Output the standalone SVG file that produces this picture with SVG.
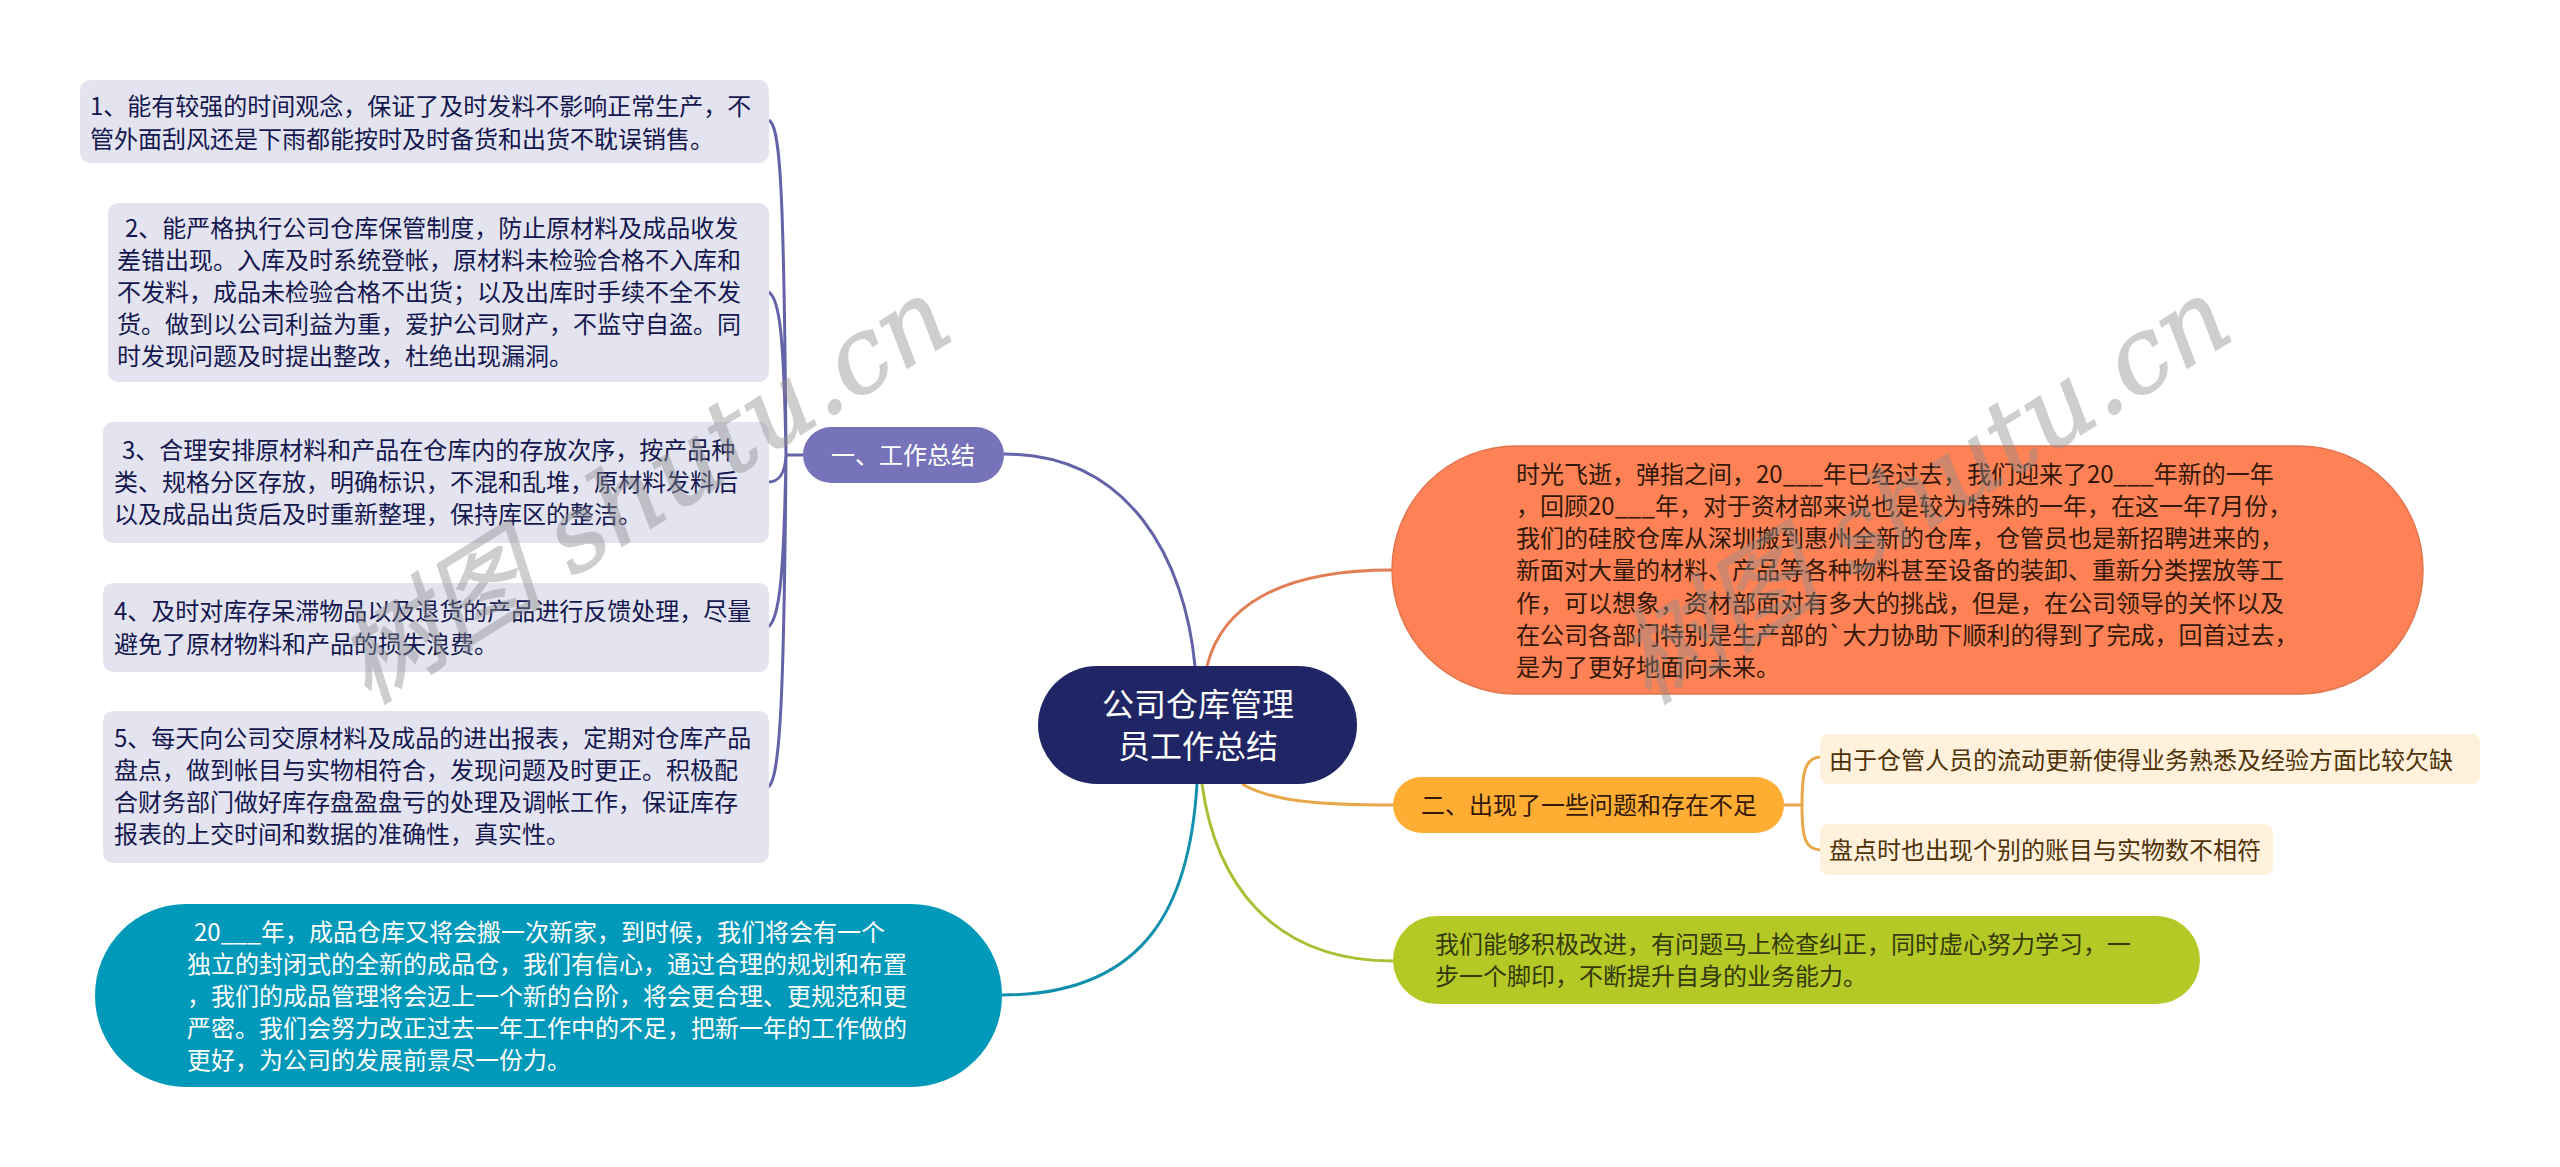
<svg xmlns="http://www.w3.org/2000/svg" width="2560" height="1167" viewBox="0 0 2560 1167">
<style>
text{font-family:"Noto Sans CJK SC","Liberation Sans",sans-serif;font-size:24px}
.c{fill:none;stroke-width:3}
.p{fill:#e4e4f1}.pt{fill:#14174e}
.w{fill:#fff}.d{fill:#331808}.b{fill:#4f3206}
.wm{font-family:"DejaVu Serif","Noto Sans CJK SC",serif;font-size:104px;font-style:italic;fill:#8c8c8c;stroke:#8c8c8c;stroke-width:1.5;opacity:.42}
</style>
<rect width="2560" height="1167" fill="#fff"/>
<g id="connectors">
<path class="c" stroke="#6563a8" d="M1195 666C1185 560 1130 454 1004 454"/>
<path class="c" stroke="#e07f55" d="M1207 666C1222 606 1280 570 1392 570"/>
<path class="c" stroke="#e8a84a" d="M1242 784C1270 800 1310 805 1393 805"/>
<path class="c" stroke="#aabf35" d="M1202 784C1215 880 1270 961 1393 961"/>
<path class="c" stroke="#1190ae" d="M1197 784C1190 900 1150 995 1002 995"/>
<path class="c" stroke="#6563a8" d="M804 455H786M768 120C780 122 784 180 786 455M768 292C780 296 784 340 786 455M768 482C778 482 785 476 786 455M768 627C780 620 784 570 786 455M768 787C780 780 784 700 786 455"/>
<path class="c" stroke="#e8a84a" d="M1783 805H1802M1820 757C1805 758 1802 772 1802 805M1820 850C1805 849 1802 838 1802 805"/>
</g>
<g id="root"><rect x="1038" y="666" width="319" height="118" rx="59" fill="#1f2565"/>
<text class="w" style="font-size:32px" x="1198" y="716" text-anchor="middle">公司仓库管理</text><text class="w" style="font-size:32px" x="1198" y="758" text-anchor="middle">员工作总结</text></g>
<g id="b1"><rect x="803" y="427" width="201" height="56" rx="28" fill="#7673ba"/><text class="w" x="903" y="464" text-anchor="middle">一、工作总结</text></g>
<g id="n1"><rect class="p" x="80" y="80" width="689" height="83" rx="10"/><text class="pt" x="90" y="115">1、能有较强的时间观念，保证了及时发料不影响正常生产，不</text><text class="pt" x="90" y="148">管外面刮风还是下雨都能按时及时备货和出货不耽误销售。</text></g>
<g id="n2"><rect class="p" x="108" y="203" width="661" height="179" rx="10"/><text class="pt" x="125" y="237"> 2、能严格执行公司仓库保管制度，防止原材料及成品收发</text><text class="pt" x="117" y="269">差错出现。入库及时系统登帐，原材料未检验合格不入库和</text><text class="pt" x="117" y="301">不发料，成品未检验合格不出货；以及出库时手续不全不发</text><text class="pt" x="117" y="333">货。做到以公司利益为重，爱护公司财产，不监守自盗。同</text><text class="pt" x="117" y="365">时发现问题及时提出整改，杜绝出现漏洞。</text></g>
<g id="n3"><rect class="p" x="103" y="422" width="666" height="121" rx="10"/><text class="pt" x="122" y="459">3、合理安排原材料和产品在仓库内的存放次序，按产品种</text><text class="pt" x="114" y="491">类、规格分区存放，明确标识，不混和乱堆，原材料发料后</text><text class="pt" x="114" y="523">以及成品出货后及时重新整理，保持库区的整洁。</text></g>
<g id="n4"><rect class="p" x="103" y="583" width="666" height="89" rx="10"/><text class="pt" x="114" y="620">4、及时对库存呆滞物品以及退货的产品进行反馈处理，尽量</text><text class="pt" x="114" y="653">避免了原材物料和产品的损失浪费。</text></g>
<g id="n5"><rect class="p" x="103" y="711" width="666" height="152" rx="10"/><text class="pt" x="114" y="747">5、每天向公司交原材料及成品的进出报表，定期对仓库产品</text><text class="pt" x="114" y="779">盘点，做到帐目与实物相符合，发现问题及时更正。积极配</text><text class="pt" x="114" y="811">合财务部门做好库存盘盈盘亏的处理及调帐工作，保证库存</text><text class="pt" x="114" y="843">报表的上交时间和数据的准确性，真实性。</text></g>
<g id="teal"><rect x="95" y="904" width="907" height="183" rx="91" fill="#0099b9"/>
<text class="w" x="194" y="941">20___年，成品仓库又将会搬一次新家，到时候，我们将会有一个</text><text class="w" x="187" y="973">独立的封闭式的全新的成品仓，我们有信心，通过合理的规划和布置</text><text class="w" x="187" y="1005">，我们的成品管理将会迈上一个新的台阶，将会更合理、更规范和更</text><text class="w" x="187" y="1037">严密。我们会努力改正过去一年工作中的不足，把新一年的工作做的</text><text class="w" x="187" y="1069">更好，为公司的发展前景尽一份力。</text></g>
<g id="orange"><rect x="1392" y="446" width="1031" height="248" rx="124" fill="#ff8256" stroke="#e27650" stroke-width="1.5"/>
<text class="d" x="1516" y="483">时光飞逝，弹指之间，20___年已经过去，我们迎来了20___年新的一年</text><text class="d" x="1516" y="515">，回顾20___年，对于资材部来说也是较为特殊的一年，在这一年7月份，</text><text class="d" x="1516" y="547">我们的硅胶仓库从深圳搬到惠州全新的仓库，仓管员也是新招聘进来的，</text><text class="d" x="1516" y="579">新面对大量的材料、产品等各种物料甚至设备的装卸、重新分类摆放等工</text><text class="d" x="1516" y="612">作，可以想象，资材部面对有多大的挑战，但是，在公司领导的关怀以及</text><text class="d" x="1516" y="644">在公司各部门特别是生产部的`大力协助下顺利的得到了完成，回首过去，</text><text class="d" x="1516" y="676">是为了更好地面向未来。</text></g>
<g id="b2"><rect x="1393" y="777" width="391" height="56" rx="28" fill="#ffae33"/><text class="d" x="1421" y="814">二、出现了一些问题和存在不足</text></g>
<g id="c1"><rect x="1820" y="734" width="660" height="50" rx="8" fill="#fff1dc"/><text class="b" x="1829" y="769">由于仓管人员的流动更新使得业务熟悉及经验方面比较欠缺</text></g>
<g id="c2"><rect x="1820" y="824" width="453" height="51" rx="8" fill="#fff1dc"/><text class="b" x="1829" y="859">盘点时也出现个别的账目与实物数不相符</text></g>
<g id="green"><rect x="1393" y="916" width="807" height="88" rx="44" fill="#b4c926"/><text fill="#333a0c" x="1435" y="953">我们能够积极改进，有问题马上检查纠正，同时虚心努力学习，一</text><text fill="#333a0c" x="1435" y="985">步一个脚印，不断提升自身的业务能力。</text></g>
<text class="wm" transform="translate(368 705) rotate(-32)">树图 shutu.cn</text>
<text class="wm" transform="translate(1648 705) rotate(-32)">树图 shutu.cn</text>
</svg>
